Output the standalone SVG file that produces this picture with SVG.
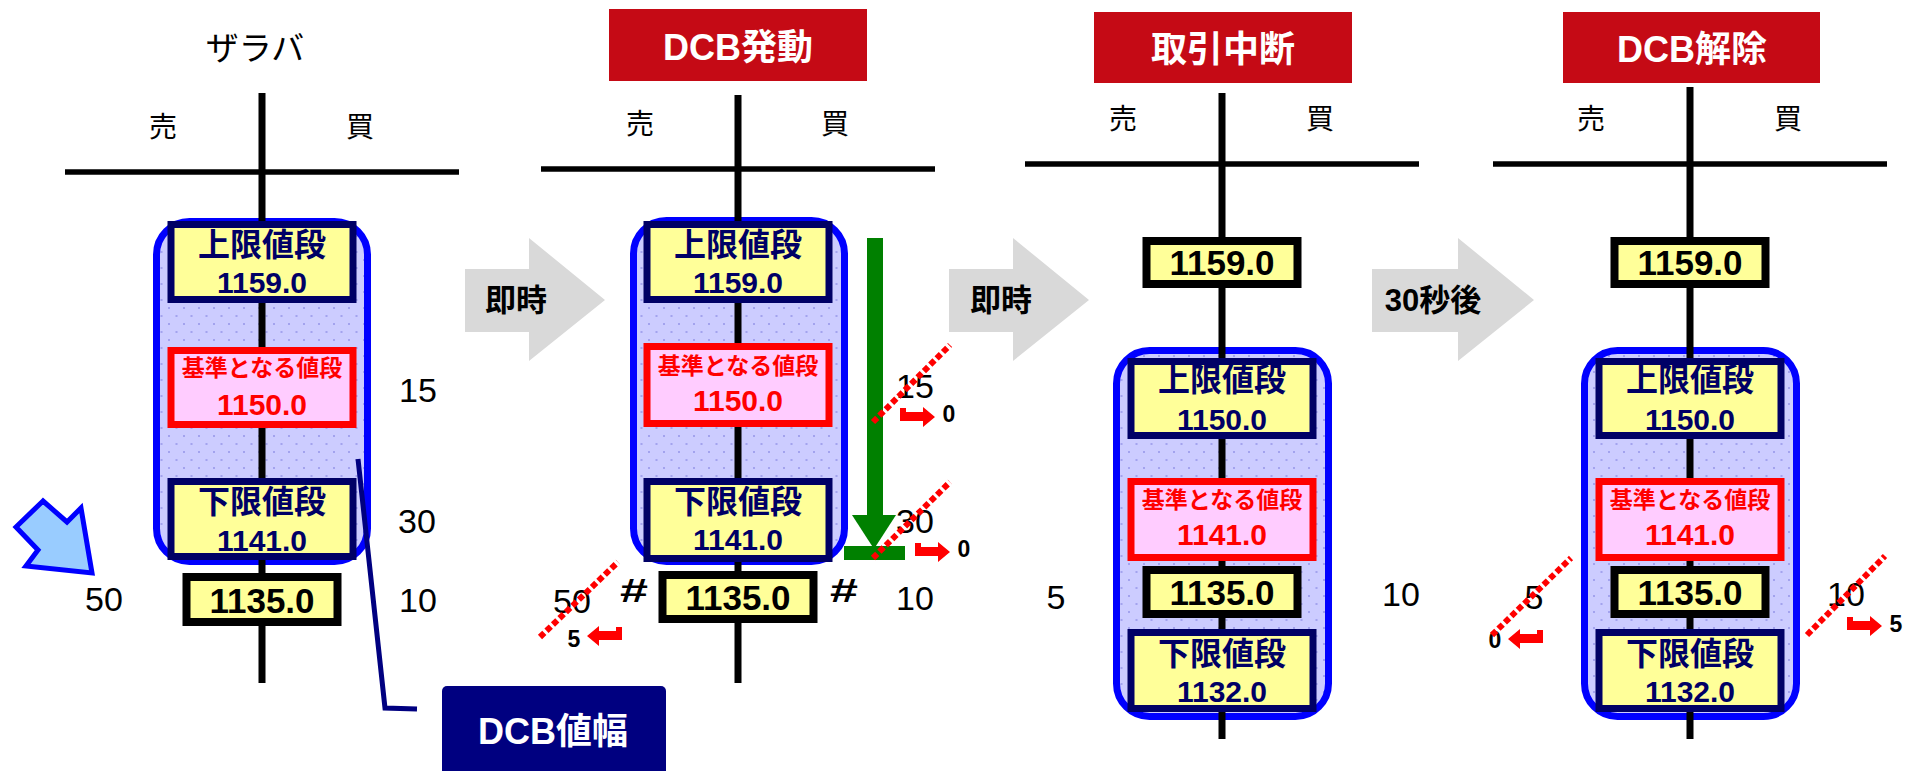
<svg xmlns="http://www.w3.org/2000/svg" xmlns:xlink="http://www.w3.org/1999/xlink" width="1914" height="771" viewBox="0 0 1914 771">
<defs>
<pattern id="dots" width="15" height="16" patternUnits="userSpaceOnUse">
<rect width="15" height="16" fill="#CCCCFF"/>
<rect x="3" y="3" width="2" height="2" fill="#A3A3EE"/>
<rect x="10.5" y="11" width="2" height="2" fill="#A3A3EE"/>
</pattern>
<path id="ra" d="M0,0 H6 V4 H23 V-1 L35,9 L23,19 V13 H0 Z" fill="#FF0000"/>
<path id="garrow" d="M0,31 H64 V0 L140,62 L64,123 V94 H0 Z" fill="#D9D9D9"/>
</defs>
<style>
.vl{stroke:#000;stroke-width:7;fill:none}
.hl{stroke:#000;stroke-width:5.5;fill:none}
.side{font-family:"Noto Sans CJK JP",sans-serif;font-size:28px;fill:#000;text-anchor:middle}
.band{fill:url(#dots);stroke:#0000FF;stroke-width:7}
.ybox{fill:#FFFF99;stroke:#000066;stroke-width:7}
.rbox{fill:#FFCCFF;stroke:#FF0000;stroke-width:7}
.kbox{fill:#FFFF99;stroke:#000;stroke-width:8}
.t{font-family:"Liberation Sans","Noto Sans CJK JP",sans-serif;font-weight:bold;text-anchor:middle}
.nv{fill:#000066;font-size:30px}
.jp{font-size:32px}
.rd{fill:#FF0000}
.bk{fill:#000}
.title{fill:#C50A15}
.tt{fill:#FFFFFF;font-size:36px}
.num{font-family:"Liberation Sans",sans-serif;font-size:34px;fill:#000;text-anchor:middle}
.sm{font-family:"Liberation Sans",sans-serif;font-weight:bold;font-size:23px;fill:#000;text-anchor:middle}
.dl{stroke:#FF0000;stroke-width:6;stroke-dasharray:6 3;fill:none}
.gt{font-family:"Liberation Sans","Noto Sans CJK JP",sans-serif;font-weight:bold;font-size:31px;fill:#000;text-anchor:middle}
</style>
<rect width="1914" height="771" fill="#FFFFFF"/>

<!-- Panel 1: ザラバ -->
<g id="panel1">
<text x="255" y="60" style="font-family:'Noto Sans CJK JP',sans-serif;font-size:33px;fill:#000;text-anchor:middle">ザラバ</text>
<line class="hl" x1="65" y1="172" x2="459" y2="172"/>
<text class="side" x="163" y="137">売</text>
<text class="side" x="360" y="137">買</text>
<rect id="p1-band" class="band" x="156.5" y="221.5" width="211" height="340" rx="33"/>
<line class="vl" x1="262" y1="93" x2="262" y2="683"/>
</g>
<g id="p1-upper" transform="translate(262,0)">
<rect class="ybox" x="-91" y="224.5" width="182" height="75"/>
<text class="t nv jp" x="0" y="256">上限値段</text>
<text class="t nv" x="0" y="293">1159.0</text>
</g>
<g id="p1-base" transform="translate(262,0)">
<rect class="rbox" x="-91" y="350.5" width="182" height="74"/>
<text class="t rd" x="0" y="376" font-size="23">基準となる値段</text>
<text class="t rd" x="0" y="415" font-size="30">1150.0</text>
</g>
<g id="p1-lower" transform="translate(262,0)">
<rect class="ybox" x="-91" y="481.5" width="182" height="75"/>
<text class="t nv jp" x="0" y="513">下限値段</text>
<text class="t nv" x="0" y="551">1141.0</text>
</g>
<g id="p1-last" transform="translate(262,0)">
<rect class="kbox" x="-75.5" y="577" width="151" height="45"/>
<text class="t bk" x="0" y="613" font-size="35">1135.0</text>
</g>
<g id="p1-qty">
<text class="num" x="418" y="402">15</text>
<text class="num" x="417" y="533">30</text>
<text class="num" x="418" y="612">10</text>
<text class="num" x="104" y="611">50</text>
</g>
<g id="p1-order">
<polygon points="43,501 16,527 38,550 26,566 92,573 81,508 67,522" fill="#99CCFF" stroke="#0000FF" stroke-width="5"/>
</g>
<g id="dcb-label">
<rect x="442" y="686" width="224" height="95" rx="5" fill="#000080"/>
<text class="t" x="553" y="744" style="fill:#FFFFFF;font-size:36px">DCB値幅</text>
</g>

<!-- Panel 2: DCB発動 -->
<g id="panel2">
<rect class="title" x="609" y="9" width="258" height="72"/>
<text class="t tt" x="738" y="60">DCB発動</text>
<line class="hl" x1="541" y1="169" x2="935" y2="169"/>
<text class="side" x="640" y="134">売</text>
<text class="side" x="835" y="134">買</text>
<rect id="p2-band" class="band" x="633.5" y="220.5" width="211" height="341" rx="33"/>
<line class="vl" x1="738" y1="95" x2="738" y2="683"/>
</g>
<g id="p2-upper" transform="translate(738,0)">
<rect class="ybox" x="-91" y="224.5" width="182" height="75"/>
<text class="t nv jp" x="0" y="256">上限値段</text>
<text class="t nv" x="0" y="293">1159.0</text>
</g>
<g id="p2-base" transform="translate(738,0)">
<rect class="rbox" x="-91" y="346.5" width="182" height="77"/>
<text class="t rd" x="0" y="374" font-size="23">基準となる値段</text>
<text class="t rd" x="0" y="411" font-size="30">1150.0</text>
</g>
<g id="p2-lower" transform="translate(738,0)">
<rect class="ybox" x="-91" y="481.5" width="182" height="77"/>
<text class="t nv jp" x="0" y="513">下限値段</text>
<text class="t nv" x="0" y="550">1141.0</text>
</g>
<g id="p2-last" transform="translate(738,0)">
<rect class="kbox" x="-75.5" y="575" width="151" height="44"/>
<text class="t bk" x="0" y="610" font-size="35">1135.0</text>
</g>
<g id="p2-qty">
<text class="num" x="915" y="398">15</text>
<text class="num" x="915" y="533">30</text>
<text class="num" x="915" y="610">10</text>
<text class="num" x="572" y="613">50</text>
<text class="t bk" x="634" y="602" font-size="34" textLength="28" lengthAdjust="spacingAndGlyphs">#</text>
<text class="t bk" x="844" y="602" font-size="34" textLength="28" lengthAdjust="spacingAndGlyphs">#</text>
<text class="sm" x="949" y="422">0</text>
<text class="sm" x="964" y="557">0</text>
<text class="sm" x="574" y="647">5</text>
</g>

<!-- Panel 3: 取引中断 -->
<g id="panel3">
<rect class="title" x="1094" y="12" width="258" height="71"/>
<text class="t tt" x="1223" y="62">取引中断</text>
<line class="hl" x1="1025" y1="164" x2="1419" y2="164"/>
<text class="side" x="1123" y="129">売</text>
<text class="side" x="1320" y="129">買</text>
<rect id="p3-band" class="band" x="1116.5" y="350.5" width="212" height="366" rx="33"/>
<line class="vl" x1="1222" y1="93" x2="1222" y2="739"/>
</g>
<g id="p3-top" transform="translate(1222,0)">
<rect class="kbox" x="-75.5" y="241" width="151" height="43"/>
<text class="t bk" x="0" y="275" font-size="35">1159.0</text>
</g>
<g id="p3-upper" transform="translate(1222,0)">
<rect class="ybox" x="-91" y="361.5" width="182" height="74"/>
<text class="t nv jp" x="0" y="391">上限値段</text>
<text class="t nv" x="0" y="430">1150.0</text>
</g>
<g id="p3-base" transform="translate(1222,0)">
<rect class="rbox" x="-91" y="481.5" width="182" height="76"/>
<text class="t rd" x="0" y="508" font-size="23">基準となる値段</text>
<text class="t rd" x="0" y="545" font-size="30">1141.0</text>
</g>
<g id="p3-last" transform="translate(1222,0)">
<rect class="kbox" x="-75.5" y="570" width="151" height="44"/>
<text class="t bk" x="0" y="605" font-size="35">1135.0</text>
</g>
<g id="p3-lower" transform="translate(1222,0)">
<rect class="ybox" x="-91" y="632.5" width="182" height="76"/>
<text class="t nv jp" x="0" y="665">下限値段</text>
<text class="t nv" x="0" y="702">1132.0</text>
</g>
<g id="p3-qty">
<text class="num" x="1056" y="609">5</text>
<text class="num" x="1401" y="606">10</text>
</g>

<!-- Panel 4: DCB解除 -->
<g id="panel4">
<rect class="title" x="1563" y="12" width="257" height="71"/>
<text class="t tt" x="1692" y="62">DCB解除</text>
<line class="hl" x1="1493" y1="164" x2="1887" y2="164"/>
<text class="side" x="1591" y="129">売</text>
<text class="side" x="1788" y="129">買</text>
<rect id="p4-band" class="band" x="1584.5" y="350.5" width="212" height="366" rx="33"/>
<line class="vl" x1="1690" y1="87" x2="1690" y2="739"/>
</g>
<g id="p4-top" transform="translate(1690,0)">
<rect class="kbox" x="-75.5" y="241" width="151" height="43"/>
<text class="t bk" x="0" y="275" font-size="35">1159.0</text>
</g>
<g id="p4-upper" transform="translate(1690,0)">
<rect class="ybox" x="-91" y="361.5" width="182" height="74"/>
<text class="t nv jp" x="0" y="391">上限値段</text>
<text class="t nv" x="0" y="430">1150.0</text>
</g>
<g id="p4-base" transform="translate(1690,0)">
<rect class="rbox" x="-91" y="481.5" width="182" height="76"/>
<text class="t rd" x="0" y="508" font-size="23">基準となる値段</text>
<text class="t rd" x="0" y="545" font-size="30">1141.0</text>
</g>
<g id="p4-last" transform="translate(1690,0)">
<rect class="kbox" x="-75.5" y="570" width="151" height="44"/>
<text class="t bk" x="0" y="605" font-size="35">1135.0</text>
</g>
<g id="p4-lower" transform="translate(1690,0)">
<rect class="ybox" x="-91" y="632.5" width="182" height="76"/>
<text class="t nv jp" x="0" y="665">下限値段</text>
<text class="t nv" x="0" y="702">1132.0</text>
</g>
<g id="p4-qty">
<text class="num" x="1534" y="609">5</text>
<text class="num" x="1846" y="606">10</text>
<text class="sm" x="1495" y="648">0</text>
<text class="sm" x="1896" y="632">5</text>
</g>

<!-- Connectors -->
<g id="connectors">
<use xlink:href="#garrow" href="#garrow" transform="translate(465,238)"/>
<text class="gt" x="516" y="311">即時</text>
<use xlink:href="#garrow" href="#garrow" transform="translate(949,238)"/>
<text class="gt" x="1001" y="311">即時</text>
<path d="M1372,269 H1458 V238 L1534,300 L1458,361 V332 H1372 Z" fill="#D9D9D9"/>
<text class="gt" x="1433" y="311">30秒後</text>
<polyline points="358,459 385,708 417,709" fill="none" stroke="#000080" stroke-width="5"/>
<rect x="867" y="238" width="16" height="280" fill="#008000"/>
<polygon points="852,515 896,515 874,549" fill="#008000"/>
<rect x="844" y="546" width="61" height="14" fill="#008000"/>
<line class="dl" x1="873" y1="422" x2="950" y2="345"/>
<line class="dl" x1="873" y1="558" x2="950" y2="482"/>
<line class="dl" x1="540" y1="637" x2="618" y2="562"/>
<line class="dl" x1="1492" y1="635" x2="1571" y2="558"/>
<line class="dl" x1="1807" y1="635" x2="1885" y2="556"/>
<use xlink:href="#ra" href="#ra" transform="translate(900,408)"/>
<use xlink:href="#ra" href="#ra" transform="translate(915,543)"/>
<use xlink:href="#ra" href="#ra" transform="translate(622,627) scale(-1,1)"/>
<use xlink:href="#ra" href="#ra" transform="translate(1543,630) scale(-1,1)"/>
<use xlink:href="#ra" href="#ra" transform="translate(1847,617)"/>
</g>
</svg>
